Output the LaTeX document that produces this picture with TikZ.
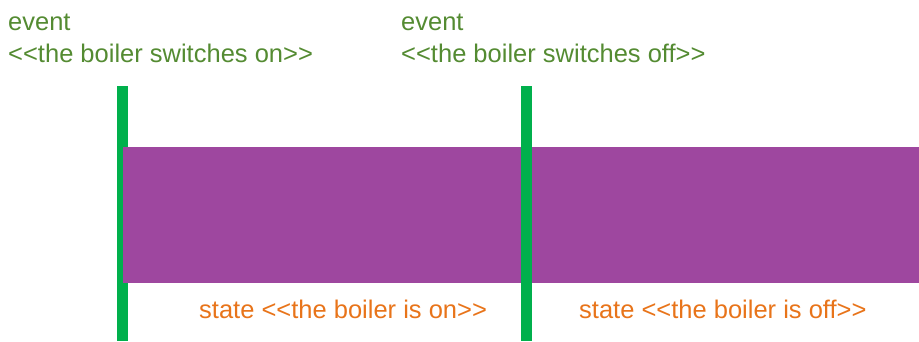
\documentclass[tikz,border=0pt]{standalone}
\usepackage{fontspec}
\setmainfont{Liberation Sans}
\definecolor{evgreen}{HTML}{548B32}
\definecolor{storange}{HTML}{E8741A}
\definecolor{linegreen}{HTML}{00B04C}
\definecolor{bandpurple}{HTML}{9E479F}
\tikzset{
  lbl/.style={anchor=base west, inner sep=0pt, font=\fontsize{25.5}{32}\selectfont},
  evtxt/.style={lbl, text=evgreen, align=left},
  sttxt/.style={lbl, text=storange},
  evline/.style={draw=linegreen, line width=10.5pt},
  band/.style={fill=bandpurple, draw=none}
}
\begin{document}
\begin{tikzpicture}[x=1pt,y=-1pt]
\useasboundingbox (0,0) rectangle (919,341);
\coordinate (l1t) at (122.5,86);
\coordinate (l1b) at (122.5,341);
\coordinate (l2t) at (526.5,86);
\coordinate (l2b) at (526.5,341);
\draw[evline] (l1t) -- (l1b);
\fill[band] (123,147) rectangle (919,283);
\draw[evline] (l2t) -- (l2b);
\node[evtxt] (e1a) at (8,30) {event};
\node[evtxt] (e1b) at (8,62) {<{}<the boiler switches on>{}>};
\node[evtxt] (e2a) at (401,30) {event};
\node[evtxt] (e2b) at (401,62) {<{}<the boiler switches off>{}>};
\node[sttxt] (s1) at (199,318) {state <{}<the boiler is on>{}>};
\node[sttxt] (s2) at (579,318) {state <{}<the boiler is off>{}>};
\end{tikzpicture}
\end{document}
